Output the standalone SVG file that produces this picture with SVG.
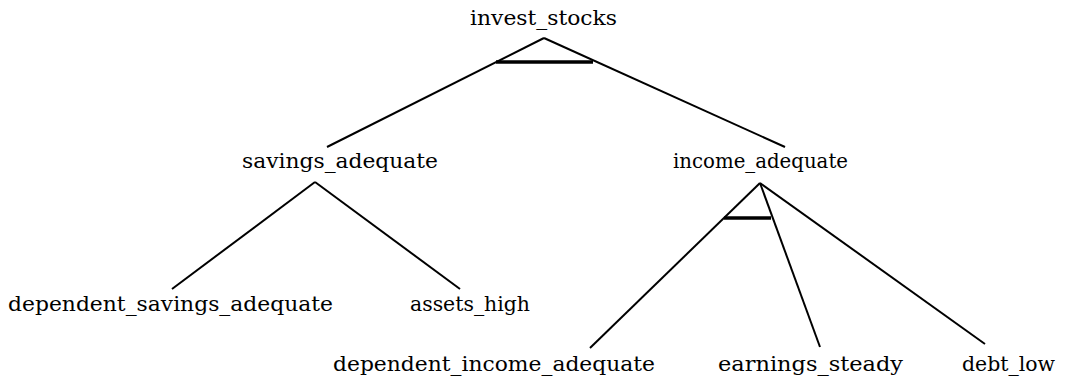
<svg xmlns="http://www.w3.org/2000/svg" width="1065" height="381" viewBox="0 0 1065 381">
<style>
text{font-family:"DejaVu Serif","Liberation Serif",serif;font-size:20px;fill:#000}
.e{stroke:#000;stroke-width:2;fill:none}
.bar{stroke:#000;stroke-width:3.5;fill:none}
</style>
<rect width="1065" height="381" fill="#fff"/>
<g id="connectors">
<line class="e" x1="544" y1="38" x2="327" y2="147"/>
<line class="e" x1="544" y1="38" x2="785" y2="147"/>
<line class="bar" x1="496" y1="62" x2="593" y2="62"/>
<line class="e" x1="315" y1="182" x2="172" y2="289"/>
<line class="e" x1="315" y1="182" x2="460" y2="289"/>
<line class="e" x1="760" y1="183" x2="590" y2="348"/>
<line class="e" x1="760" y1="183" x2="820" y2="347"/>
<line class="e" x1="760" y1="183" x2="985" y2="344"/>
<line class="bar" x1="724" y1="218" x2="771" y2="218"/>
</g>
<g id="invest_stocks"><text x="470" y="25" textLength="147" lengthAdjust="spacingAndGlyphs">invest_stocks</text></g>
<g id="savings_adequate"><text x="242" y="168" textLength="196" lengthAdjust="spacingAndGlyphs">savings_adequate</text></g>
<g id="income_adequate"><text x="673" y="168" textLength="175" lengthAdjust="spacingAndGlyphs">income_adequate</text></g>
<g id="dependent_savings_adequate"><text x="8" y="311" textLength="325" lengthAdjust="spacingAndGlyphs">dependent_savings_adequate</text></g>
<g id="assets_high"><text x="410" y="311" textLength="120" lengthAdjust="spacingAndGlyphs">assets_high</text></g>
<g id="dependent_income_adequate"><text x="333" y="371" textLength="322" lengthAdjust="spacingAndGlyphs">dependent_income_adequate</text></g>
<g id="earnings_steady"><text x="718" y="371" textLength="185" lengthAdjust="spacingAndGlyphs">earnings_steady</text></g>
<g id="debt_low"><text x="962" y="371" textLength="93" lengthAdjust="spacingAndGlyphs">debt_low</text></g>
</svg>
